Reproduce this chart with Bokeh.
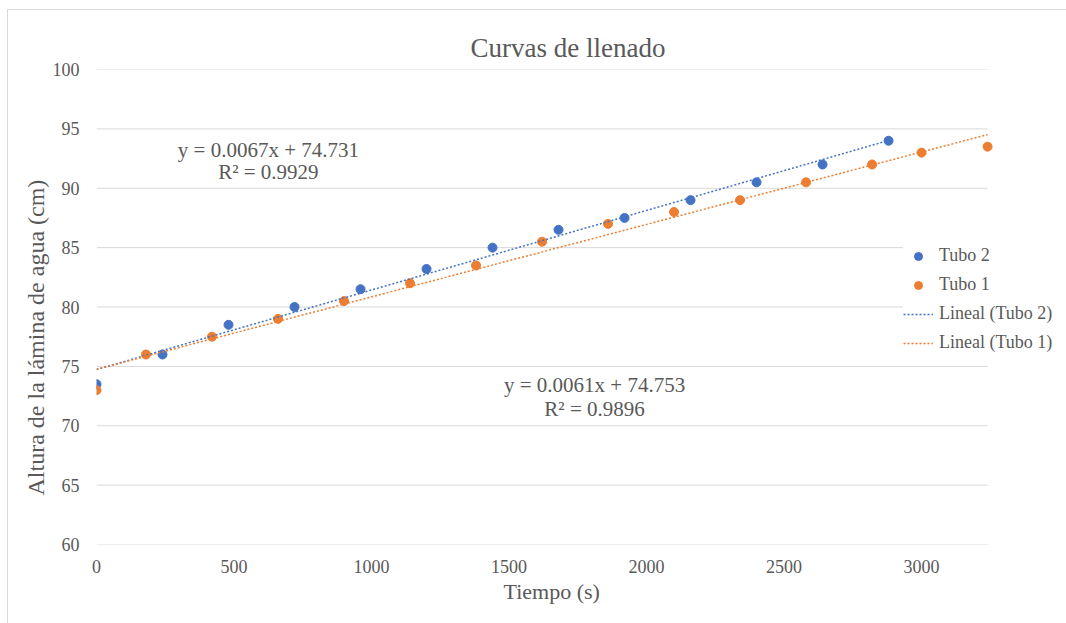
from bokeh.plotting import figure
from bokeh.models import (Range1d, Title, Label, Legend, LegendItem,
                          FixedTicker)
from bokeh.embed import file_html
from bokeh.resources import INLINE

SERIF = "Liberation Serif"
GREY = "#595959"
GRID = "#d9d9d9"
BLUE = "#4472C4"
ORANGE = "#ED7D31"

# Measured filling curves: time (s) vs water level (cm)
t2_time = [0, 240, 480, 720, 960, 1200, 1440, 1680, 1920, 2160, 2400, 2640, 2880]
t2_level = [73.5, 76, 78.5, 80, 81.5, 83.2, 85, 86.5, 87.5, 89, 90.5, 92, 94]
t1_time = [0, 180, 420, 660, 900, 1140, 1380, 1620, 1860, 2100, 2340, 2580, 2820, 3000, 3240]
t1_level = [73, 76, 77.5, 79, 80.5, 82, 83.5, 85.5, 87, 88, 89, 90.5, 92, 93, 93.5]

# Linear trend coefficients (slope, intercept, R²)
t2_fit = (0.0067, 74.731, 0.9929)
t1_fit = (0.0061, 74.753, 0.9896)

x_ticks = [0, 500, 1000, 1500, 2000, 2500, 3000]
y_ticks = [60, 65, 70, 75, 80, 85, 90, 95, 100]
x_axis_end = 3240  # plot area ends here; the legend sits to its right

p = figure(width=1066, height=623, output_backend="svg", toolbar_location=None,
           x_range=Range1d(0, 3527), y_range=Range1d(60, 100),
           min_border_left=96, min_border_right=0, min_border_top=69,
           min_border_bottom=79, title=None)
# thin chart-area frame on the top and left, painted behind a transparent border
p.styles = {
    "background": ("linear-gradient(#d9d9d9, #d9d9d9) 7px 9px / 1px 620px no-repeat, "
                   "linear-gradient(#d9d9d9, #d9d9d9) 7px 9px / 1065px 1px no-repeat, "
                   "white")
}
p.background_fill_color = "white"
p.border_fill_alpha = 0
p.outline_line_color = None

# axes
for ax in (p.xaxis[0], p.yaxis[0]):
    ax.axis_line_color = None
    ax.major_tick_line_color = None
    ax.minor_tick_line_color = None
    ax.major_label_text_font = SERIF
    ax.major_label_text_font_size = "18px"
    ax.major_label_text_color = GREY
p.xaxis.ticker = FixedTicker(ticks=x_ticks)
p.yaxis.ticker = FixedTicker(ticks=y_ticks)
p.xaxis.major_label_standoff = 9
p.yaxis.major_label_standoff = 11

# horizontal gridlines, limited to the plot area
p.xgrid.grid_line_color = None
p.ygrid.grid_line_color = None
p.segment(x0=[0] * len(y_ticks), x1=[x_axis_end] * len(y_ticks),
          y0=y_ticks, y1=y_ticks, line_color=GRID, line_width=1)

# titles
def add_title(text, side, size, offset, standoff):
    t = Title(text=text, align="left", text_font=SERIF, text_font_size=size,
              text_font_style="normal", text_color=GREY, offset=offset,
              standoff=standoff)
    p.add_layout(t, side)

add_title("Curvas de llenado", "above", "27px", 374, 13)
add_title("Tiempo (s)", "below", "22px", 407, 2)
add_title("Altura de la lámina de agua (cm)", "left", "24px", 49, 2)

# scatter series
s2 = p.scatter(t2_time, t2_level, size=9, color=BLUE, line_color=BLUE)
s1 = p.scatter(t1_time, t1_level, size=9, color=ORANGE, line_color=ORANGE)

# trend lines from the fitted coefficients
def trend(xs, fit):
    x0, x1 = min(xs), max(xs)
    return [x0, x1], [fit[0] * x0 + fit[1], fit[0] * x1 + fit[1]]

tx2, ty2 = trend(t2_time, t2_fit)
tx1, ty1 = trend(t1_time, t1_fit)
l2 = p.line(tx2, ty2, line_color=BLUE, line_width=1.5, line_dash="2 2")
l1 = p.line(tx1, ty1, line_color=ORANGE, line_width=1.5, line_dash="2 2")

# equation labels
def eq_labels(x, y1, y2, fit):
    txt1 = f"y = {fit[0]}x + {fit[1]}"
    txt2 = f"R² = {fit[2]}"
    for yy, tt in ((y1, txt1), (y2, txt2)):
        p.add_layout(Label(x=x, y=yy, text=tt, text_align="center",
                           text_baseline="middle", text_font=SERIF,
                           text_font_size="21px", text_color=GREY))

eq_labels(625, 93.18, 91.41, t2_fit)
eq_labels(1811, 73.47, 71.45, t1_fit)

legend = Legend(items=[
    LegendItem(label="Tubo 2", renderers=[s2]),
    LegendItem(label="Tubo 1", renderers=[s1]),
    LegendItem(label="Lineal (Tubo 2)", renderers=[l2]),
    LegendItem(label="Lineal (Tubo 1)", renderers=[l1]),
], location=(807, 191))
legend.label_text_font = SERIF
legend.label_text_font_size = "18px"
legend.label_text_color = GREY
legend.glyph_width = 30
legend.glyph_height = 20
legend.label_height = 20
legend.spacing = 8
legend.label_standoff = 6
legend.padding = 4
legend.margin = 0
legend.border_line_color = None
legend.background_fill_color = "white"
legend.background_fill_alpha = 1
p.add_layout(legend, "center")

open("out.html", "w").write(file_html(p, INLINE))
